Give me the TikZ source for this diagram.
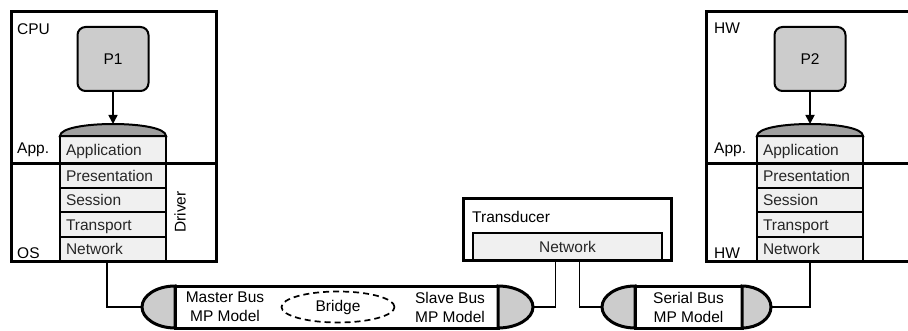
\documentclass[tikz,border=0pt]{standalone}
\usepackage{fontspec}
\setmainfont{Liberation Sans}
\usetikzlibrary{positioning,shapes.geometric,arrows.meta}

\tikzset{
  sysbox/.style={draw, line width=3pt, outer sep=0pt},
  layer/.style={draw, fill=gray!12, line width=2pt, outer sep=0pt, minimum width=106pt,
    minimum height=24.5pt, inner xsep=6pt, text width=94pt, align=left,
    text height=13.5pt, text depth=1.5pt, text=black!85},
  dome/.style={draw, fill=gray!75, line width=2pt},
  proc/.style={draw, fill=gray!40, line width=2pt, outer sep=0pt, rounded corners=8pt,
    minimum width=71pt, minimum height=64pt},
  tag/.style={anchor=base west, inner sep=0pt},
  busbody/.style={draw, fill=white, line width=3pt, outer sep=0pt, minimum height=42pt, inner sep=0pt},
  buscap/.style={draw, fill=gray!40, line width=3pt},
  bridge/.style={ellipse, draw, line width=1.7pt, dash pattern=on 6pt off 4pt,
    minimum width=113pt, minimum height=31pt},
  wire/.style={line width=1.7pt},
  arr/.style={line width=1.7pt, -{Triangle[width=9pt,length=9pt]}},
}

% rounded ends of a bus: node, cap width
\newcommand{\capleft}[2]{%
  \draw[buscap] (#1.north west) .. controls +(-0.55*#2,0) and +(0,11.5) .. ([xshift=-#2pt]#1.west)
    .. controls +(0,-11.5) and +(-0.55*#2,0) .. (#1.south west) -- cycle;}
\newcommand{\capright}[2]{%
  \draw[buscap] (#1.north east) .. controls +(0.55*#2,0) and +(0,11.5) .. ([xshift=#2pt]#1.east)
    .. controls +(0,-11.5) and +(0.55*#2,0) .. (#1.south east) -- cycle;}

\begin{document}
\begin{tikzpicture}[x=1pt, y=1pt, font=\fontsize{15.5}{19}\selectfont]
\useasboundingbox (0,0) rectangle (908,330);

% outer boxes
\node[sysbox, anchor=north west, minimum width=205pt, minimum height=249pt] (cpu) at (11,318) {};
\node[sysbox, anchor=north west, minimum width=260pt, minimum height=249pt] (hw) at (706.5,318) {};

% protocol stacks with their processes
\foreach \s/\x/\p in {1/60/P1, 2/757/P2} {
  \node[layer, anchor=south west, minimum height=27pt] (app\s) at (\x,167) {Application};
  \node[layer, below=0pt of app\s] (pres\s) {Presentation};
  \node[layer, below=0pt of pres\s] (sess\s) {Session};
  \node[layer, below=0pt of sess\s] (trans\s) {Transport};
  \node[layer, below=0pt of trans\s] (net\s) {Network};
  \draw[dome] (app\s.north west) .. controls +(0,16) and +(0,16) .. (app\s.north east) -- cycle;
  \coordinate (top\s) at ([yshift=12pt]app\s.north);
  \node[proc] (p\s) at ([yshift=65pt]top\s) {\p};
  \draw[arr] (p\s) -- (top\s);
}

% App / OS split
\draw[sysbox] (cpu.west |- app1.south) -- (cpu.east |- app1.south);
\draw[sysbox] (hw.west |- app2.south) -- (hw.east |- app2.south);

% labels
\node[tag] (lcpu) at (17,295) {CPU};
\node[tag] (lapp1) at (17,176) {App.};
\node[tag] (los) at (17,72) {OS};
\node[rotate=90] (ldrv) at (180,118) {Driver};
\node[tag] (lhw) at (714,296) {HW};
\node[tag] (lapp2) at (714,176) {App.};
\node[tag] (lhw2) at (714,72) {HW};

% transducer
\node[sysbox, anchor=north west, minimum width=208pt, minimum height=62pt] (tdc) at (463,132) {};
\node[layer, anchor=south west, minimum width=189pt, text width=177pt, align=center,
  minimum height=27pt] (tnet) at (473,70) {Network};
\node[tag] (ltdc) at (472,108) {Transducer};

% buses
\node[busbody, minimum width=323pt] (mbus) at (336.5,23) {};
\capleft{mbus}{33}
\capright{mbus}{35}
\node[align=center] (lmaster) at (225,23) {Master Bus\\MP Model};
\node[bridge] (brg) at (338,23) {Bridge};
\node[align=center] (lslave) at (450,23) {Slave Bus\\MP Model};
\node[busbody, minimum width=107pt, align=center] (sbus) at (688.5,23) {Serial Bus\\MP Model};
\capleft{sbus}{33}
\capright{sbus}{29}

% wiring
\coordinate (mtipL) at ([xshift=-33pt]mbus.west);
\coordinate (mtipR) at ([xshift=35pt]mbus.east);
\coordinate (stipL) at ([xshift=-33pt]sbus.west);
\coordinate (stipR) at ([xshift=29pt]sbus.east);
\draw[wire] ([xshift=-6pt]net1.south) |- (mtipL);
\draw[wire] (mtipR) -| ([xshift=-12pt]tnet.south);
\draw[wire] ([xshift=12pt]tnet.south) |- (stipL);
\draw[wire] (stipR) -| (net2.south);
\end{tikzpicture}
\end{document}
